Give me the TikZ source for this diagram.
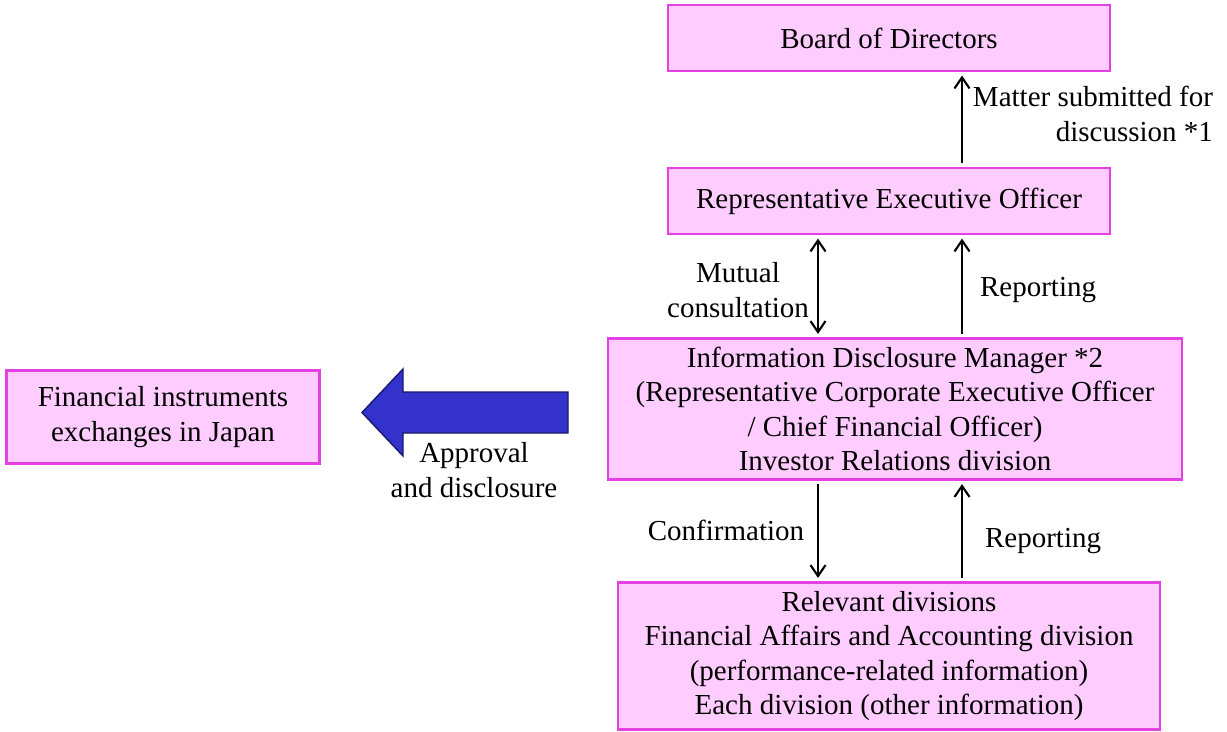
\documentclass[tikz,border=0pt]{standalone}
\usepackage{fontspec}
\setmainfont{Liberation Serif}
\usetikzlibrary{arrows.meta}
\definecolor{boxfill}{RGB}{255,204,255}
\definecolor{boxedge}{RGB}{228,64,228}
\definecolor{bigblue}{RGB}{51,51,204}
\definecolor{bignavy}{RGB}{25,25,110}
\begin{document}
\begin{tikzpicture}[x=0.02cm,y=-0.02cm,org box/.style={draw=boxedge, fill=boxfill, line width=1.2pt, align=center, inner sep=2pt, font=\fontsize{16.5}{19.6}\selectfont},flow label/.style={align=center, inner sep=1pt, font=\fontsize{16.5}{19.6}\selectfont},flow arrow/.style={line width=1.2pt, -{Straight Barb[length=2.2mm,width=3mm]}, shorten >=2pt, shorten <=2pt},both arrow/.style={flow arrow, {Straight Barb[length=2.2mm,width=3mm]}-{Straight Barb[length=2.2mm,width=3mm]}}]%
\path[use as bounding box] (0,0) rectangle (1227,731);%
  % boxes%
\node[org box, minimum width=8.84cm, minimum height=1.32cm] (board) at (889,38) {Board of Directors};%
\node[org box, minimum width=8.84cm, minimum height=1.32cm] (repexec) at (889,201) {Representative Executive Officer};%
\node[org box, minimum width=11.48cm, minimum height=2.82cm] (idm) at (895,409) {Information Disclosure Manager *2\\ (Representative Corporate Executive Officer\\ / Chief Financial Officer)\\ Investor Relations division};%
\node[org box, minimum width=6.26cm, minimum height=1.86cm] (fie) at (163,417) {Financial instruments\\ exchanges in Japan};%
\node[org box, minimum width=10.84cm, minimum height=2.94cm] (reldiv) at (889,656) {Relevant divisions\\ Financial Affairs and Accounting division\\ (performance-related information)\\ Each division (other information)};%
  % arrow columns%
\coordinate (leftcol) at (818,0);%
\coordinate (rightcol) at (962,0);%
  % connectors%
\draw[flow arrow] (repexec.north -| rightcol) -- (board.south -| rightcol);%
\draw[both arrow] (repexec.south -| leftcol) -- (idm.north -| leftcol);%
\draw[flow arrow] (idm.north -| rightcol) -- (repexec.south -| rightcol);%
\draw[flow arrow] (idm.south -| leftcol) -- (reldiv.north -| leftcol);%
\draw[flow arrow] (reldiv.north -| rightcol) -- (idm.south -| rightcol);%
  % big arrow to the exchanges%
\fill[bigblue, draw=bignavy, line width=0.8pt] (568,392) -- (403,392) -- (403,369) -- (362,412.5) -- (403,456) -- (403,433) -- (568,433) -- cycle;%
  % labels%
\node[flow label, align=right, anchor=east] (mattlbl) at (1215,114) {Matter submitted for\\ discussion *1};%
\node[flow label] (mutlbl) at (738,290) {Mutual\\ consultation};%
\node[flow label, anchor=west] (replbl) at (978,290) {Reporting};%
\node[flow label] (apprlbl) at (474,470) {Approval\\ and disclosure};%
\node[flow label] (conflbl) at (726,530) {Confirmation};%
\node[flow label, anchor=west] (replbl2) at (983,541) {Reporting};%
\end{tikzpicture}
\end{document}
